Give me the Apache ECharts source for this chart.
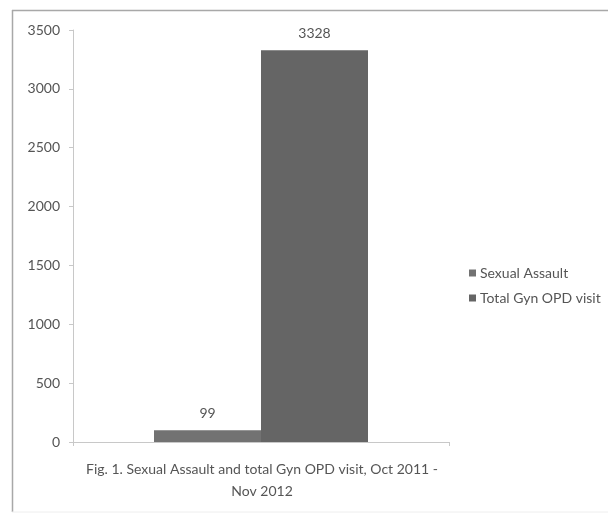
<!DOCTYPE html>
<html><head><meta charset="utf-8">
<script src="https://cdn.jsdelivr.net/npm/echarts@6/dist/echarts.min.js"></script>
<style>html,body{margin:0;padding:0;background:#fff}#c{width:608px;height:518px}</style>
</head><body><div id="c"></div>
<script>
const categories = ['Oct 2011 - Nov 2012'];
const seriesNames = ['Sexual Assault', 'Total Gyn OPD visit'];
const sexualAssault = [99];
const totalGynOPD = [3328];
const yTicks = [0, 500, 1000, 1500, 2000, 2500, 3000, 3500];
const caption = 'Fig. 1. Sexual Assault and total Gyn OPD visit, Oct 2011 -\nNov 2012';

const font = 'Lato, "Open Sans", sans-serif';
const chart = echarts.init(document.getElementById('c'));
chart.setOption({
  animation: false,
  backgroundColor: '#fff',
  textStyle: {fontFamily: font},
  graphic: [
    {type: 'line', shape: {x1: 12, y1: 10.5, x2: 608, y2: 10.5}, style: {stroke: '#a8a8a8', lineWidth: 1.5}},
    {type: 'line', shape: {x1: 12.5, y1: 10, x2: 12.5, y2: 512}, style: {stroke: '#a8a8a8', lineWidth: 1.5}},
    {type: 'line', shape: {x1: 12, y1: 512, x2: 608, y2: 512}, style: {stroke: '#eeeeee', lineWidth: 1}},
    {type: 'text', x: 262, y: 458, style: {text: caption, font: '14px ' + font, fill: '#555', align: 'center', verticalAlign: 'top', lineHeight: 22}}
  ],
  legend: {
    orient: 'vertical', left: 464, top: 261, itemWidth: 7, itemHeight: 7, itemGap: 11,
    icon: 'rect',
    textStyle: {fontSize: 14, color: '#555', fontFamily: font, padding: [0, 0, 0, -1]},
    data: seriesNames
  },
  grid: {left: 73, top: 30, right: 159, bottom: 76, containLabel: false},
  xAxis: {
    type: 'category', data: categories,
    axisLine: {lineStyle: {color: '#c8c8c8'}},
    axisTick: {show: true, length: 4, alignWithLabel: false, lineStyle: {color: '#c8c8c8'}},
    axisLabel: {show: false}
  },
  yAxis: {
    type: 'value', min: yTicks[0], max: yTicks[yTicks.length - 1], interval: 500,
    axisLine: {show: true, lineStyle: {color: '#c8c8c8'}},
    axisTick: {show: true, length: 4, lineStyle: {color: '#c8c8c8'}},
    splitLine: {show: false},
    axisLabel: {fontSize: 14, color: '#555', margin: 13, fontFamily: font, formatter: v => String(v)}
  },
  series: [
    {name: seriesNames[0], type: 'bar', data: sexualAssault, barWidth: 107, barGap: '0%',
     itemStyle: {color: '#727272'},
     label: {show: true, position: 'top', distance: 10, fontSize: 14, color: '#555', fontFamily: font}},
    {name: seriesNames[1], type: 'bar', data: totalGynOPD, barWidth: 107, barGap: '0%',
     itemStyle: {color: '#656565'},
     label: {show: true, position: 'top', distance: 10, fontSize: 14, color: '#555', fontFamily: font}}
  ]
});
</script></body></html>
